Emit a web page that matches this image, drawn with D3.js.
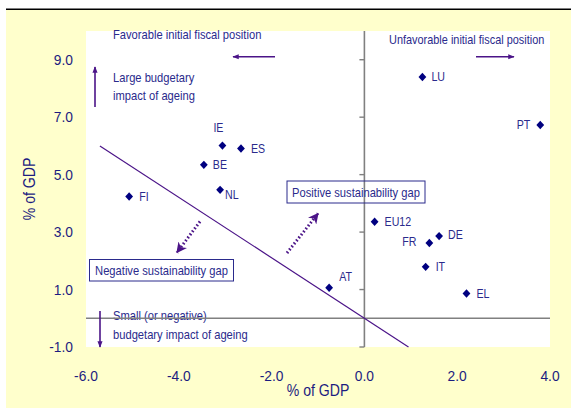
<!DOCTYPE html>
<html>
<head>
<meta charset="utf-8">
<script src="https://cdn.jsdelivr.net/npm/d3@7"></script>
<style>
  html, body { margin: 0; padding: 0; background: #ffffff; }
  svg { display: block; font-family: "Liberation Sans", Arial, sans-serif; }
</style>
</head>
<body>
<svg id="chart" width="571" height="408"></svg>
<script>
// ---- data ----
const countries = ["LU", "PT", "IE", "ES", "BE", "NL", "FI", "EU12", "DE", "FR", "IT", "EL", "AT"];
const initialFiscalPosition = [1.25, 3.79, -3.06, -2.66, -3.46, -3.11, -5.07, 0.22, 1.61, 1.40, 1.32, 2.20, -0.76];
const ageingImpact = [8.4, 6.73, 6.01, 5.91, 5.34, 4.47, 4.24, 3.36, 2.86, 2.62, 1.79, 0.86, 1.06];
const xTicks = [-6, -4, -2, 0, 2, 4];
const yTicks = [-1, 1, 3, 5, 7, 9];
const xDomain = [-6, 4];
const yDomain = [-1, 10];
const sustainabilityLine = [[-5.7, 6.0], [0.95, -1.0]];
const xTitle = "% of GDP";
const yTitle = "% of GDP";

// ---- layout ----
const W = 571, H = 408;
const plot = { left: 86, top: 31, right: 550, bottom: 347 };
const navy = "#000080";
const textCol = "#2a2a8c";
const purple = "#4b1488";
const axisGrey = "#808080";

// label placement (layout only)
const labelPlace = {
  LU: { dx: 9, dy: 0, anchor: "start" },
  PT: { dx: -10, dy: 0, anchor: "end" },
  IE: { dx: -4, dy: -18, anchor: "middle" },
  ES: { dx: 10, dy: 0, anchor: "start" },
  BE: { dx: 9, dy: 0, anchor: "start" },
  NL: { dx: 5, dy: 5, anchor: "start" },
  FI: { dx: 10, dy: 0, anchor: "start" },
  EU12: { dx: 10, dy: 0, anchor: "start" },
  DE: { dx: 9, dy: -1, anchor: "start" },
  FR: { dx: -13, dy: -1, anchor: "end" },
  IT: { dx: 10, dy: 0, anchor: "start" },
  EL: { dx: 10, dy: 0, anchor: "start" },
  AT: { dx: 10, dy: -11, anchor: "start" }
};

const svg = d3.select("#chart");
const fmt = d => d3.format(".1f")(d).replace("\u2212", "-");

// horizontally condense text around its anchor point (via transform)
function squash(sel, f, rot) {
  sel.each(function () {
    const tx = +this.getAttribute("x") || 0;
    const ty = +this.getAttribute("y") || 0;
    this.setAttribute("x", 0);
    this.setAttribute("y", 0);
    this.setAttribute("transform", `translate(${tx},${ty})${rot ? ` rotate(${rot})` : ""} scale(${f},1)`);
  });
  return sel;
}

// background
svg.append("rect").attr("x", 0).attr("y", 0).attr("width", W).attr("height", H).attr("fill", "#ffffff");
svg.append("rect").attr("x", 6).attr("y", 10).attr("width", W - 6).attr("height", H - 10).attr("fill", "#ffffcc");
svg.append("rect").attr("x", 6).attr("y", 8.5).attr("width", W - 6).attr("height", 1.5).attr("fill", "#000000");
svg.append("rect").attr("x", plot.left).attr("y", plot.top)
  .attr("width", plot.right - plot.left).attr("height", plot.bottom - plot.top).attr("fill", "#ffffff");

const x = d3.scaleLinear().domain(xDomain).range([plot.left, plot.right]);
const y = d3.scaleLinear().domain(yDomain).range([plot.bottom, plot.top]);

// defs: arrowheads
const defs = svg.append("defs");
defs.append("marker").attr("id", "arr").attr("viewBox", "0 0 10 10")
  .attr("refX", 9).attr("refY", 5).attr("markerWidth", 4).attr("markerHeight", 4)
  .attr("markerUnits", "strokeWidth").attr("orient", "auto")
  .append("path").attr("d", "M0,1 L10,5 L0,9 Z").attr("fill", purple);
defs.append("marker").attr("id", "arrBig").attr("viewBox", "0 0 10 10")
  .attr("refX", 9).attr("refY", 5).attr("markerWidth", 3.6).attr("markerHeight", 3.6)
  .attr("markerUnits", "strokeWidth").attr("orient", "auto")
  .append("path").attr("d", "M0,0 L10,5 L0,10 L3,5 Z").attr("fill", purple);

// annotation texts (drawn first so axes lines overlay them)
const ann = svg.append("g").attr("fill", textCol).attr("font-size", 13);
function annText(tx, ty, s, anchor, f) {
  const t = ann.append("text").attr("x", tx).attr("y", ty).attr("text-anchor", anchor || "start").text(s);
  squash(t, f || 0.86);
  return t;
}
annText(113, 39, "Favorable initial fiscal position");
annText(389, 43.5, "Unfavorable initial fiscal position", "start", 0.84);
annText(113, 81.5, "Large budgetary");
annText(113, 100, "impact of ageing");
annText(113, 320, "Small (or negative)");
annText(113, 339, "budgetary impact of ageing");

// boxes
function boxText(bx, by, bw, bh, s, fill) {
  svg.append("rect").attr("x", bx).attr("y", by).attr("width", bw).attr("height", bh)
    .attr("fill", fill).attr("stroke", "#2a2a8c").attr("stroke-width", 1);
  const t = svg.append("text").attr("x", bx + bw / 2).attr("y", by + bh / 2 + 4.5)
    .attr("text-anchor", "middle").attr("fill", textCol).attr("font-size", 13).text(s);
  squash(t, 0.86);
}

// axes zero lines
svg.append("line").attr("x1", plot.left).attr("x2", plot.right).attr("y1", y(0)).attr("y2", y(0))
  .attr("stroke", axisGrey).attr("stroke-width", 1.6);
svg.append("line").attr("x1", x(0)).attr("x2", x(0)).attr("y1", plot.top).attr("y2", plot.bottom)
  .attr("stroke", axisGrey).attr("stroke-width", 1.6);
// ticks on vertical axis
svg.append("g").selectAll("line").data(yTicks).join("line")
  .attr("x1", x(0) - 5).attr("x2", x(0)).attr("y1", d => y(d)).attr("y2", d => y(d))
  .attr("stroke", axisGrey).attr("stroke-width", 1.4);

boxText(287, 181, 138, 22, "Positive sustainability gap", "none");
boxText(89.5, 259.5, 144, 21.5, "Negative sustainability gap", "#ffffff");

// tick labels
const tickFont = 15;
squash(svg.append("g").selectAll("text").data(yTicks).join("text")
  .attr("x", 73).attr("y", d => y(d) + 5.3).attr("text-anchor", "end")
  .attr("fill", "#1c1c80").attr("font-size", tickFont).text(fmt), 0.92);
squash(svg.append("g").selectAll("text").data(xTicks).join("text")
  .attr("x", d => x(d)).attr("y", 380.5).attr("text-anchor", "middle")
  .attr("fill", "#1c1c80").attr("font-size", tickFont).text(fmt), 0.92);

// axis titles
squash(svg.append("text").attr("x", 318).attr("y", 396).attr("text-anchor", "middle")
  .attr("fill", "#1c1c80").attr("font-size", 16).text(xTitle), 0.88);
// rotated title: condense along its reading direction
svg.append("text").attr("transform", "translate(35,189) rotate(-90) scale(0.88,1)").attr("text-anchor", "middle")
  .attr("fill", "#1c1c80").attr("font-size", 16).text(yTitle);

// sustainability frontier line
svg.append("path")
  .attr("d", d3.line().x(d => x(d[0])).y(d => y(d[1]))(sustainabilityLine))
  .attr("fill", "none").attr("stroke", purple).attr("stroke-width", 1.2);

// solid arrows
function arrow(x1, y1, x2, y2) {
  svg.append("line").attr("x1", x1).attr("y1", y1).attr("x2", x2).attr("y2", y2)
    .attr("stroke", purple).attr("stroke-width", 1.6).attr("marker-end", "url(#arr)");
}
arrow(275, 56.7, 233, 56.7);
arrow(476, 56.7, 514, 56.7);
arrow(95, 107, 95, 67);
arrow(100, 311, 100, 347);

// dotted arrows
function dotArrow(x1, y1, x2, y2) {
  svg.append("line").attr("x1", x1).attr("y1", y1).attr("x2", x2).attr("y2", y2)
    .attr("stroke", purple).attr("stroke-width", 3).attr("stroke-dasharray", "1.6,2.2")
    .attr("marker-end", "url(#arrBig)");
}
dotArrow(200, 221.5, 177, 252.5);
dotArrow(287, 253, 318, 213.5);

// points
const pts = countries.map((c, i) => ({ c, x: initialFiscalPosition[i], y: ageingImpact[i] }));
const diamond = "M0,-4.2 L3.9,0 L0,4.2 L-3.9,0 Z";
svg.append("g").selectAll("path").data(pts).join("path")
  .attr("d", diamond).attr("transform", d => `translate(${x(d.x)},${y(d.y)})`).attr("fill", navy);

squash(svg.append("g").selectAll("text").data(pts).join("text")
  .attr("x", d => x(d.x) + labelPlace[d.c].dx)
  .attr("y", d => y(d.y) + labelPlace[d.c].dy + 4.3)
  .attr("text-anchor", d => labelPlace[d.c].anchor)
  .attr("fill", textCol).attr("font-size", 12.5).text(d => d.c), 0.85);
</script>
</body>
</html>
